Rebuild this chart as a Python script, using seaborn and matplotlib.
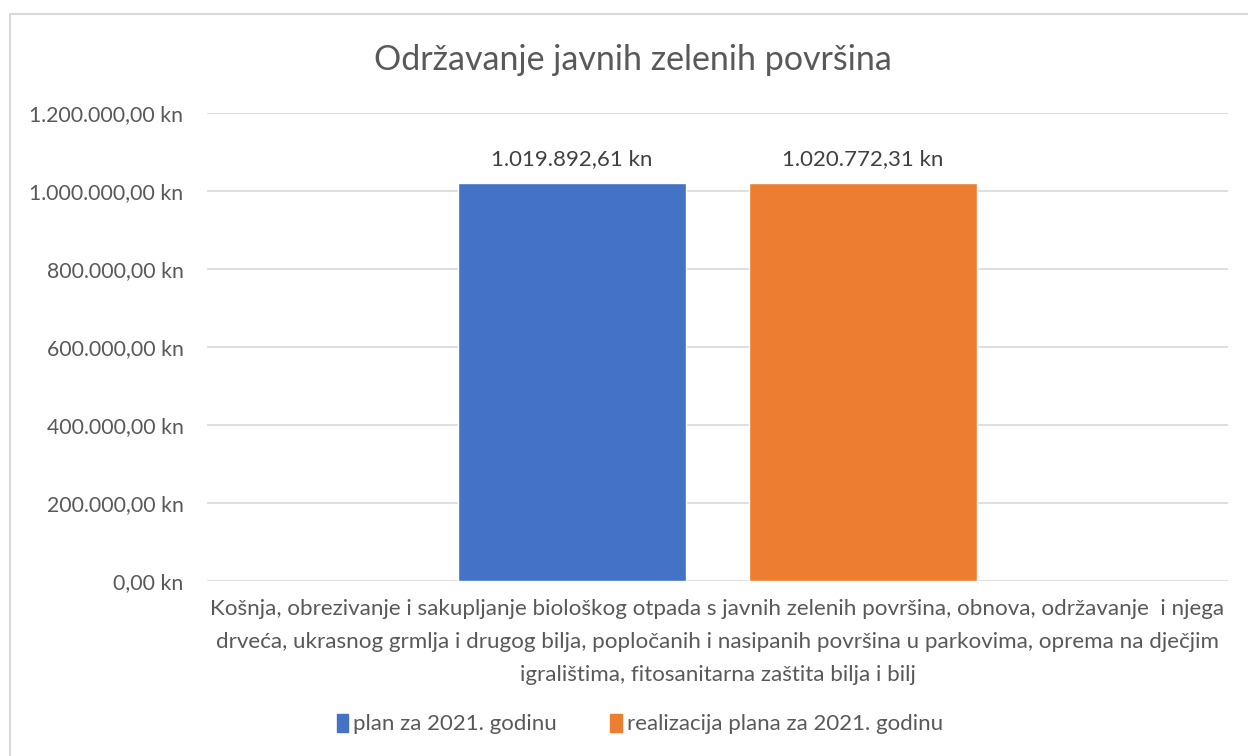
import pandas as pd
import seaborn as sns
import matplotlib.pyplot as plt
from matplotlib.patches import Rectangle
from matplotlib.ticker import FuncFormatter, MultipleLocator

# podaci
kategorija = ["Košnja, obrezivanje i sakupljanje biološkog otpada s javnih zelenih površina, obnova, održavanje  i njega\n"
              "drveća, ukrasnog grmlja i drugog bilja, popločanih i nasipanih površina u parkovima, oprema na dječjim\n"
              "igralištima, fitosanitarna zaštita bilja i bilj"]
serije = ["plan za 2021. godinu", "realizacija plana za 2021. godinu"]
iznosi = [1019892.61, 1020772.31]
boje = ["#4472C4", "#ED7D31"]

df = pd.DataFrame({"kategorija": kategorija * 2, "serija": serije, "iznos": iznosi})


def kn(v, pos=None):
    s = f"{v:,.2f}".replace(",", "X").replace(".", ",").replace("X", ".")
    return s + " kn"


sns.set_theme(style="white")
plt.rcParams["font.family"] = ["Lato", "DejaVu Sans"]
siva = "#595959"

fig = plt.figure(figsize=(12.48, 7.56), dpi=100)
ax = fig.add_axes([207 / 1248, 1 - 581 / 756, 1021 / 1248, 468 / 756])

sns.barplot(data=df, x="kategorija", y="iznos", hue="serija", palette=boje,
            width=0.57, gap=0.214, saturation=1, ax=ax, legend=False)

ax.set_xlim(-0.5, 0.5)
ax.set_ylim(0, 1200000)
ax.yaxis.set_major_locator(MultipleLocator(200000))
ax.yaxis.set_major_formatter(FuncFormatter(kn))
ax.grid(axis="y", color="#d9d9d9", linewidth=1.2)
ax.set_axisbelow(True)
for s in ax.spines.values():
    s.set_visible(False)
ax.tick_params(axis="y", length=0, pad=17, labelsize=15.3, labelcolor=siva)
ax.tick_params(axis="x", length=0, pad=13, labelsize=16.1, labelcolor=siva)
for lbl in ax.get_xticklabels():
    lbl.set_linespacing(1.82)
ax.set_xlabel("")
ax.set_ylabel("")

# oznake vrijednosti
for cont in ax.containers:
    ax.bar_label(cont, labels=[kn(v) for v in cont.datavalues], padding=10,
                 fontsize=16, color="#404040")

fig.text(633 / 1248, 1 - 60 / 756, "Održavanje javnih zelenih površina",
         ha="center", va="center", fontsize=24.5, color=siva)

rucke = [Rectangle((0, 0), 1, 1, color=b) for b in boje]
fig.legend(rucke, serije, loc="center", bbox_to_anchor=(640 / 1248, 1 - 724 / 756),
           ncol=2, frameon=False, fontsize=16, labelcolor=siva, handlelength=0.5,
           handleheight=0.9, handletextpad=0.25, columnspacing=2.4)

# okvir grafikona
fig.patches.append(Rectangle((10 / 1248, -0.1), 1.2, 1 - 14 / 756 + 0.1, transform=fig.transFigure,
                             fill=False, edgecolor="#d9d9d9", linewidth=1.5))

fig.savefig("out.png", dpi=100)
